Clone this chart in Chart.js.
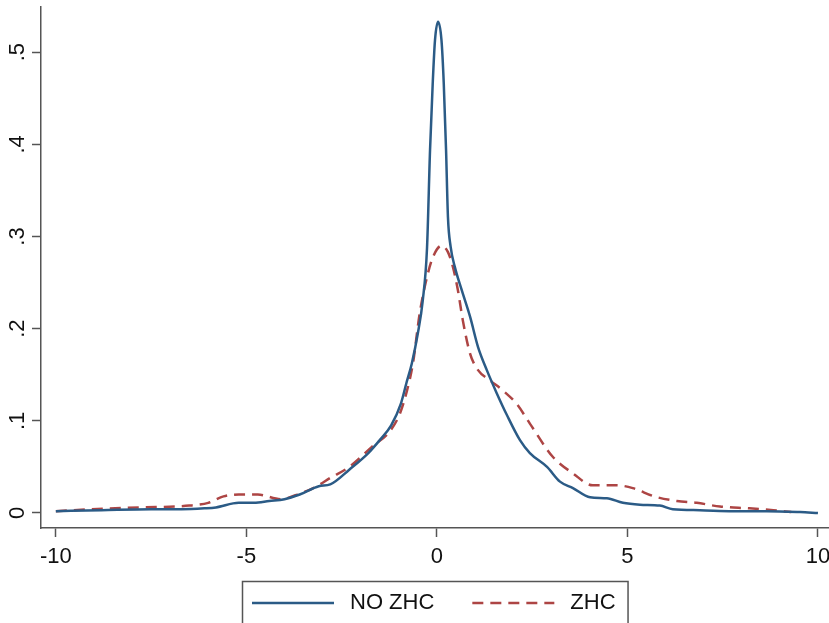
<!DOCTYPE html>
<html>
<head>
<meta charset="utf-8">
<script src="https://cdn.jsdelivr.net/npm/chart.js@4.4.1/dist/chart.umd.min.js"></script>
<style>
    html, body { margin: 0; padding: 0; background: #fff; }
    #wrap { width: 829px; height: 623px; }
</style>
</head>
<body>
<div id="wrap"><canvas id="densityChart"></canvas></div>
<script>
// Densidad estimada: sin ZHC (línea continua) y con ZHC (línea discontinua)
const noZhcX = [-10, -8.8, -7.5, -6.7, -6.1, -5.8, -5.2, -4.8, -4.4, -4.0, -3.6, -3.1, -2.8, -2.3, -1.8, -1.5,
    -1.2, -0.95, -0.8, -0.66, -0.5, -0.37, -0.26, -0.18, -0.11, -0.05, 0.03, 0.12, 0.18, 0.24, 0.29, 0.36,
    0.47, 0.65, 0.87, 1.08, 1.31, 1.57, 1.84, 2.18, 2.44, 2.89, 3.23, 3.57, 4.02, 4.46, 4.88, 5.33, 5.85,
    6.19, 6.9, 7.77, 8.66, 9.53, 10];
const noZhcY = [0.002, 0.003, 0.004, 0.004, 0.005, 0.006, 0.011, 0.011, 0.013, 0.015, 0.020, 0.029, 0.031, 0.047, 0.065, 0.079,
    0.095, 0.118, 0.141, 0.162, 0.195, 0.231, 0.287, 0.394, 0.466, 0.513, 0.533, 0.513, 0.466, 0.394, 0.321, 0.289,
    0.267, 0.242, 0.213, 0.180, 0.155, 0.130, 0.106, 0.079, 0.065, 0.050, 0.034, 0.027, 0.017, 0.016, 0.011, 0.009, 0.008,
    0.004, 0.003, 0.002, 0.002, 0.001, 0.000];

const zhcX = [-10, -9.1, -7.8, -6.5, -6.0, -5.6, -5.2, -4.7, -4.1, -3.6, -3.15, -2.8, -2.3, -1.7, -1.23, -0.97,
    -0.79, -0.63, -0.45, -0.26, -0.1, 0.12, 0.29, 0.42, 0.55, 0.68, 0.87, 1.08, 1.39, 1.73, 2.1, 2.44,
    3.04, 3.57, 4.09, 4.72, 5.14, 5.7, 6.3, 6.82, 7.43, 8.2, 8.83, 9.3];
const zhcY = [0.002, 0.004, 0.006, 0.008, 0.011, 0.018, 0.020, 0.020, 0.015, 0.021, 0.029, 0.038, 0.050, 0.072, 0.089, 0.108,
    0.132, 0.162, 0.217, 0.256, 0.278, 0.290, 0.283, 0.267, 0.242, 0.209, 0.173, 0.155, 0.144, 0.133, 0.118, 0.097,
    0.061, 0.043, 0.030, 0.030, 0.027, 0.018, 0.013, 0.011, 0.007, 0.005, 0.003, 0.001];

const xTicks = [-10, -5, 0, 5, 10];
const yTicks = [0, 0.1, 0.2, 0.3, 0.4, 0.5];
const seriesLabels = ['NO ZHC', 'ZHC'];

const axisColor = '#555';
const labelFont = { family: '"Liberation Sans", Arial, sans-serif', size: 22 };

function toPoints(xs, ys) {
    return xs.map((x, i) => ({ x: x, y: ys[i] }));
}

// sin márgenes extra por las etiquetas de los extremos
function noLabelPadding(scale) {
    scale.paddingLeft = 0;
    scale.paddingRight = 0;
    scale.paddingTop = 0;
    scale.paddingBottom = 0;
}

// Leyenda en un recuadro debajo del eje x
const boxedLegend = {
    id: 'boxedLegend',
    afterDraw(chart) {
        const ctx = chart.ctx;
        const area = chart.chartArea;
        const lineLen = 82, padL = 10, padR = 12, gapText = 16, gapItem = 38;
        ctx.save();
        ctx.font = labelFont.size + 'px ' + labelFont.family;
        const items = chart.data.datasets.map(ds => ({ ds: ds, w: ctx.measureText(ds.label).width }));
        let total = padL + padR;
        items.forEach((it, i) => { total += lineLen + gapText + it.w + (i ? gapItem : 0); });
        const left = Math.round((area.left + area.right) / 2 - total / 2);
        const top = area.bottom + 53;
        const midY = top + 22;

        ctx.strokeStyle = axisColor;
        ctx.lineWidth = 1.5;
        ctx.strokeRect(left + 0.5, top + 0.5, total, 80);

        let x = left + padL;
        items.forEach((it, i) => {
            if (i) x += gapItem;
            ctx.beginPath();
            ctx.setLineDash(it.ds.borderDash || []);
            ctx.strokeStyle = it.ds.borderColor;
            ctx.lineWidth = it.ds.borderWidth;
            ctx.moveTo(x, midY);
            ctx.lineTo(x + lineLen, midY);
            ctx.stroke();
            ctx.setLineDash([]);
            x += lineLen + gapText;
            ctx.fillStyle = '#111';
            ctx.textBaseline = 'middle';
            ctx.textAlign = 'left';
            ctx.fillText(it.ds.label, x, midY);
            x += it.w;
        });
        ctx.restore();
    }
};

const ctx = document.getElementById('densityChart').getContext('2d');
const densityChart = new Chart(ctx, {
    type: 'line',
    data: {
        datasets: [
            {
                label: seriesLabels[0],
                data: toPoints(noZhcX, noZhcY),
                borderColor: '#2b5b86',
                borderWidth: 2.5,
                pointRadius: 0,
                fill: false,
                cubicInterpolationMode: 'monotone'
            },
            {
                label: seriesLabels[1],
                data: toPoints(zhcX, zhcY),
                borderColor: '#ad4544',
                borderWidth: 2.5,
                borderDash: [11, 7],
                pointRadius: 0,
                fill: false,
                cubicInterpolationMode: 'monotone'
            }
        ]
    },
    options: {
        responsive: true,
        maintainAspectRatio: false,
        animation: false,
        layout: {
            autoPadding: false,
            padding: { top: 7, left: 0, right: 0, bottom: 0 }
        },
        scales: {
            x: {
                type: 'linear',
                min: -10.39,
                max: 10.29,
                afterBuildTicks: scale => { scale.ticks = xTicks.map(v => ({ value: v })); },
                afterFit: scale => { scale.height = 95; noLabelPadding(scale); },
                grid: {
                    drawOnChartArea: false,
                    tickLength: 9,
                    tickColor: axisColor,
                    tickWidth: 1.5
                },
                border: { color: axisColor, width: 1.5 },
                ticks: {
                    padding: 7,
                    color: '#111',
                    font: labelFont,
                    maxRotation: 0,
                    autoSkip: false
                }
            },
            y: {
                type: 'linear',
                min: -0.0163,
                max: 0.549,
                afterBuildTicks: scale => { scale.ticks = yTicks.map(v => ({ value: v })); },
                afterFit: scale => { scale.width = 41; noLabelPadding(scale); },
                grid: {
                    drawOnChartArea: false,
                    tickLength: 9,
                    tickColor: axisColor,
                    tickWidth: 1.5
                },
                border: { color: axisColor, width: 1.5 },
                ticks: {
                    padding: 5,
                    color: '#111',
                    font: labelFont,
                    minRotation: 90,
                    maxRotation: 90,
                    crossAlign: 'center',
                    callback: v => v === 0 ? '0' : v.toFixed(1).replace(/^0/, '')
                }
            }
        },
        plugins: {
            legend: { display: false },
            tooltip: { enabled: false }
        }
    },
    plugins: [boxedLegend]
});
</script>
</body>
</html>
